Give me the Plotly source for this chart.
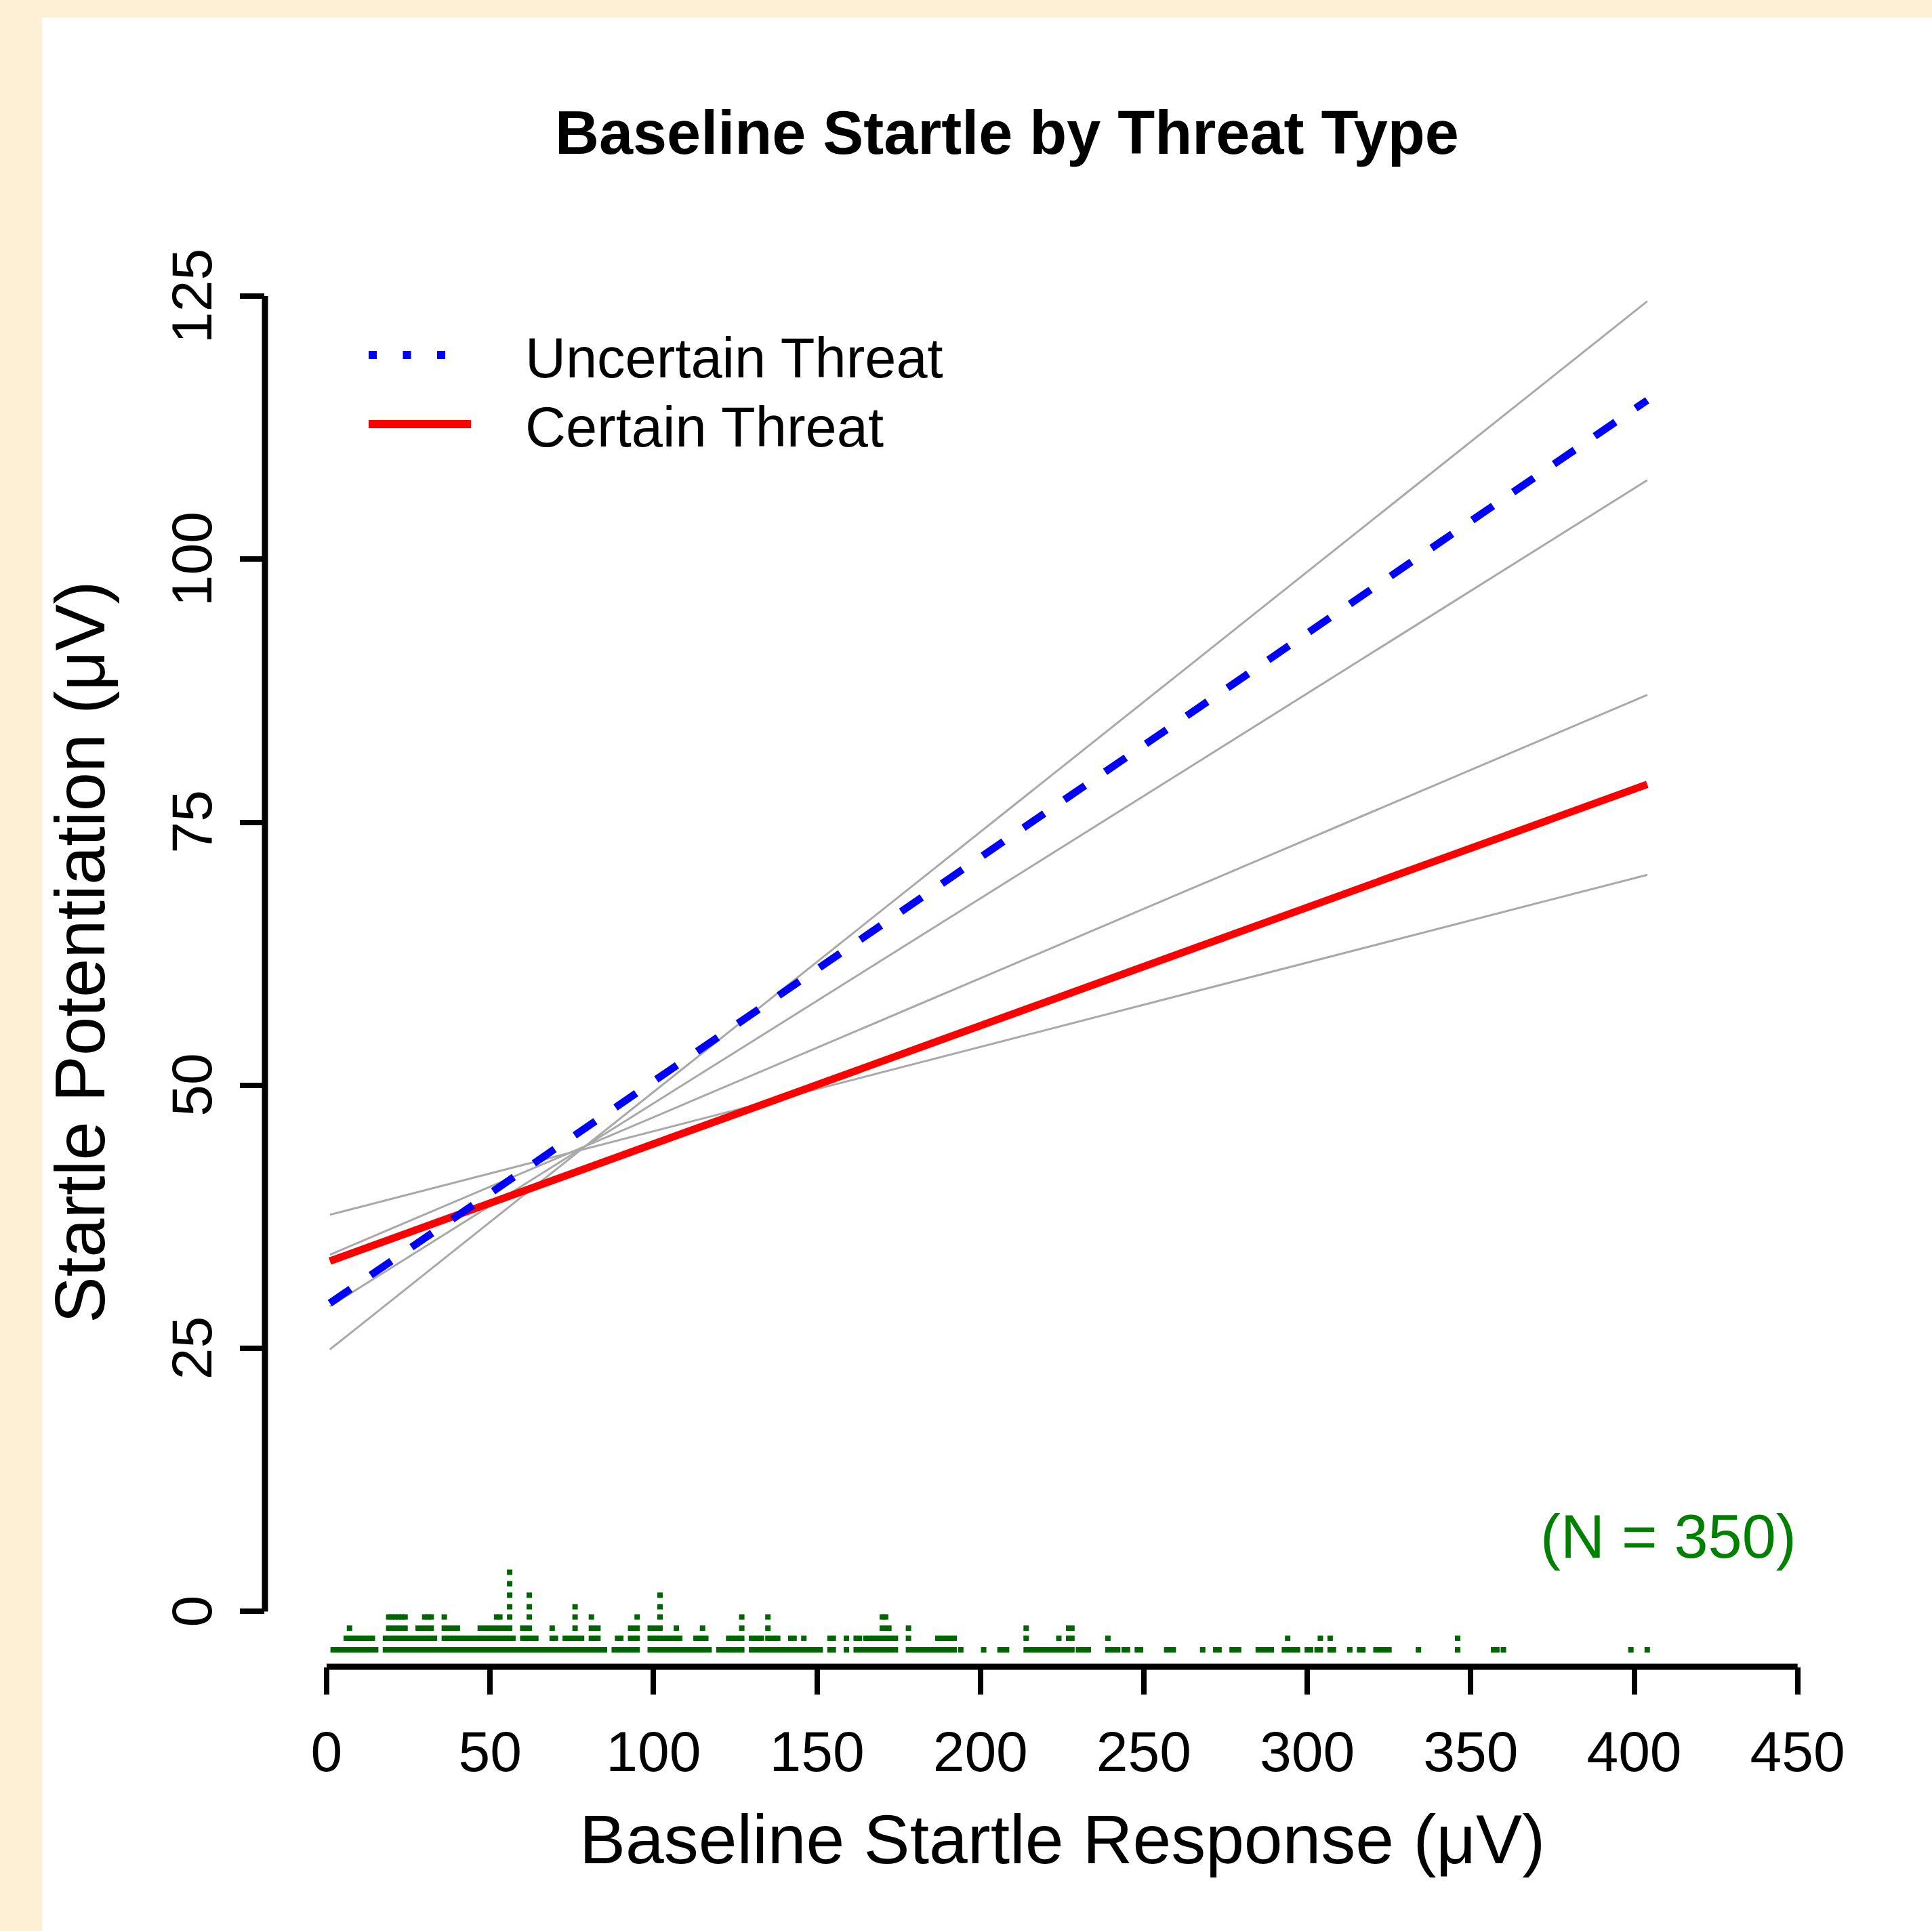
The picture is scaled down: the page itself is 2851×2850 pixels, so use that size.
import plotly.graph_objects as go

W, H = 2851, 2850

# ---------------- data ----------------
fit_x = [1, 404]                       # baseline range covered by the fitted lines
uncertain_fit = [29.3, 115.1]
uncertain_ci_a = [24.9, 124.5]         # confidence lines around the uncertain fit
uncertain_ci_b = [29.0, 107.5]
certain_fit = [33.3, 78.6]
certain_ci_a = [33.9, 87.1]            # confidence lines around the certain fit
certain_ci_b = [37.7, 70.0]

x_ticks = [0, 50, 100, 150, 200, 250, 300, 350, 400, 450]
y_ticks = [0, 25, 50, 75, 100, 125]

# stacked rug of baseline values (value, number of stacked points)
rug_values = [2, 3, 4, 5, 6, 7, 8, 9, 10, 11, 12, 13, 14, 15,
              18, 19, 20, 21, 22, 23, 24, 25, 26, 27, 28, 29, 30, 31, 32, 33, 34, 35, 36, 37, 38, 39, 40,
              41, 42, 43, 44, 45, 46, 47, 48, 49, 50, 51, 52, 53, 54, 55, 56, 57, 58, 59, 60, 61, 62, 63,
              64, 65, 66, 67, 68, 69, 70, 71, 72, 73, 74, 75, 76, 77, 78, 79, 80, 81, 82, 83, 84, 85,
              88, 89, 90, 91, 92, 93, 94, 95,
              99, 100, 101, 102, 103, 104, 105, 106, 107, 108, 109, 110, 111, 112, 113, 114, 115, 116, 117,
              120, 121, 122, 123, 124, 125, 126, 127,
              130, 131, 132, 133, 134, 135, 136, 137, 138, 139, 140, 141, 142, 143, 144, 145, 146, 147,
              148, 149, 150, 151, 154, 155, 159,
              162, 163, 164, 165, 166, 167, 168, 169, 170, 171, 172, 173, 174,
              178, 179, 180, 181, 182, 183, 184, 185, 186, 187, 188, 189, 190, 191, 192,
              194, 201, 206, 207, 208,
              214, 215, 216, 217, 218, 219, 220, 221, 222, 223, 224, 225, 226, 227, 228,
              230, 231, 232, 233, 239, 240, 241, 242, 244, 245, 248, 249, 257, 258, 259, 268, 272, 273,
              277, 278, 279, 285, 286, 287, 288, 289, 293, 294, 295, 296, 297, 300, 301, 303, 304, 307,
              308, 313, 316, 317, 321, 322, 323, 324, 325, 334, 346, 357, 358, 360, 399, 404]
rug_counts = [1, 1, 1, 1, 2, 3, 2, 2, 2, 2, 2, 2, 2, 1,
              2, 4, 4, 4, 4, 4, 4, 2, 2, 2, 3, 3, 4, 4, 4, 2, 1, 1, 4, 3, 3, 3, 3,
              2, 2, 2, 2, 2, 2, 3, 3, 3, 3, 3, 4, 4, 3, 3, 8, 2, 1, 1, 3, 3, 6, 2,
              2, 1, 1, 1, 1, 3, 2, 1, 1, 2, 2, 2, 5, 2, 2, 1, 1, 4, 3, 3, 1, 1,
              1, 2, 2, 1, 1, 3, 3, 4,
              3, 3, 3, 6, 2, 2, 2, 2, 3, 2, 1, 1, 1, 1, 2, 2, 3, 2, 1,
              1, 1, 1, 2, 2, 2, 2, 4,
              2, 2, 2, 2, 1, 4, 2, 2, 2, 1, 1, 1, 2, 2, 1, 1, 2, 1,
              1, 1, 1, 1, 2, 2, 2,
              2, 2, 1, 2, 2, 2, 2, 2, 4, 4, 3, 2, 2,
              3, 1, 1, 1, 1, 1, 1, 1, 1, 2, 2, 2, 2, 2, 2,
              1, 1, 1, 1, 1,
              3, 1, 1, 1, 1, 1, 1, 1, 1, 1, 2, 1, 1, 3, 3,
              1, 1, 1, 1, 2, 1, 1, 1, 1, 1, 1, 1, 1, 1, 1, 1, 1, 1,
              1, 1, 1, 1, 1, 1, 1, 1, 1, 2, 1, 1, 1, 1, 1, 1, 2, 2,
              1, 1, 1, 1, 1, 1, 1, 1, 1, 1, 2, 1, 1, 1, 1, 1]
n_label = "(N = 350)"

# ---------------- layout constants ----------------
L, R, T, B = 391, 111, 365, 390          # margins (px)
PW, PH = W - L - R, H - T - B
X_RANGE = [-18.86, 468.1]
Y_RANGE = [-5.25, 129.63]
rug_row_offsets = [-3.64, -2.54, -1.58, -0.52, 0.45, 1.55, 2.64, 3.73]

FONT = "Liberation Sans, Arial, sans-serif"


def px_x(px):
    return (px - L) / PW


def px_y(py):
    return (H - B - py) / PH


fig = go.Figure()

# confidence lines
for ys in (uncertain_ci_a, uncertain_ci_b, certain_ci_a, certain_ci_b):
    fig.add_trace(go.Scatter(x=fit_x, y=ys, mode="lines",
                             line=dict(color="#A9A9A9", width=3), showlegend=False,
                             hoverinfo="skip"))

fig.add_trace(go.Scatter(x=fit_x, y=certain_fit, mode="lines", name="Certain Threat",
                         line=dict(color="#FF0000", width=11), showlegend=False))
fig.add_trace(go.Scatter(x=fit_x, y=uncertain_fit, mode="lines", name="Uncertain Threat",
                         line=dict(color="#0000FF", width=11, dash="37px,36px"),
                         showlegend=False))

# stacked rug
rx, ry = [], []
for v, c in zip(rug_values, rug_counts):
    for k in range(c):
        rx.append(v)
        ry.append(rug_row_offsets[k])
fig.add_trace(go.Scatter(x=rx, y=ry, mode="markers",
                         marker=dict(symbol="square", size=8, color="#006400",
                                     line=dict(width=0)),
                         showlegend=False, hoverinfo="x"))

shapes = []
# white page area over beige background
shapes.append(dict(type="rect", xref="paper", yref="paper",
                   x0=px_x(62), x1=px_x(W + 5), y0=px_y(H + 5), y1=px_y(26),
                   fillcolor="white", line=dict(width=0), layer="below"))
# axis lines spanning first to last tick (R style)
shapes.append(dict(type="line", xref="x", yref="paper", x0=x_ticks[0], x1=x_ticks[-1],
                   y0=0, y1=0, line=dict(color="black", width=9)))
shapes.append(dict(type="line", xref="paper", yref="y", x0=0, x1=0,
                   y0=y_ticks[0], y1=y_ticks[-1], line=dict(color="black", width=9)))
# legend samples
shapes.append(dict(type="line", xref="paper", yref="paper", x0=px_x(544), x1=px_x(680),
                   y0=px_y(524), y1=px_y(524),
                   line=dict(color="#0000FF", width=12, dash="12px,38.5px")))
shapes.append(dict(type="line", xref="paper", yref="paper", x0=px_x(544), x1=px_x(695),
                   y0=px_y(626), y1=px_y(626),
                   line=dict(color="#FF0000", width=12)))

annotations = [
    dict(text="<b>Baseline Startle by Threat Type</b>", xref="paper", yref="paper",
         x=px_x(1486), y=px_y(196), xanchor="center", yanchor="middle", showarrow=False,
         font=dict(family=FONT, size=90, color="black")),
    dict(text="Uncertain Threat", xref="paper", yref="paper", x=px_x(773), y=px_y(528),
         xanchor="left", yanchor="middle", showarrow=False,
         font=dict(family=FONT, size=83, color="black")),
    dict(text="Certain Threat", xref="paper", yref="paper", x=px_x(773), y=px_y(630),
         xanchor="left", yanchor="middle", showarrow=False,
         font=dict(family=FONT, size=83, color="black")),
    dict(text="Baseline Startle Response (μV)", xref="paper", yref="paper",
         x=px_x(1568), y=px_y(2715), xanchor="center", yanchor="middle", showarrow=False,
         font=dict(family=FONT, size=102, color="black")),
    dict(text="Startle Potentiation (μV)", xref="paper", yref="paper",
         x=px_x(118), y=px_y(1405), xanchor="center", yanchor="middle", showarrow=False,
         textangle=-90, font=dict(family=FONT, size=103, color="black")),
    dict(text=n_label, xref="x", yref="paper", x=x_ticks[-1], y=px_y(2268),
         xanchor="right", yanchor="middle", showarrow=False,
         font=dict(family=FONT, size=90, color="#008000")),
]
# y tick labels (rotated, parallel to the axis, R style)
for v in y_ticks:
    annotations.append(dict(text=str(v), xref="paper", yref="y", x=px_x(283), y=v,
                            xanchor="center", yanchor="middle", showarrow=False,
                            textangle=-90,
                            font=dict(family=FONT, size=84, color="black")))

fig.update_layout(
    width=W, height=H,
    margin=dict(l=L, r=R, t=T, b=B, pad=0, autoexpand=False),
    paper_bgcolor="#FDF0D5",
    plot_bgcolor="white",
    shapes=shapes,
    annotations=annotations,
    showlegend=False,
    xaxis=dict(range=X_RANGE, showgrid=False, zeroline=False, showline=False,
               tickmode="array", tickvals=x_ticks, ticktext=[str(v) for v in x_ticks],
               ticks="outside", ticklen=40, tickwidth=8, tickcolor="black",
               ticklabelstandoff=12,
               tickfont=dict(family=FONT, size=84, color="black"), automargin=False),
    yaxis=dict(range=Y_RANGE, showgrid=False, zeroline=False, showline=False,
               tickmode="array", tickvals=y_ticks, showticklabels=False,
               ticks="outside", ticklen=36, tickwidth=8, tickcolor="black",
               automargin=False),
)

fig.write_html("out.html", config={"displayModeBar": False},
               post_script="document.body.style.margin='0px';document.body.style.padding='0px';")
